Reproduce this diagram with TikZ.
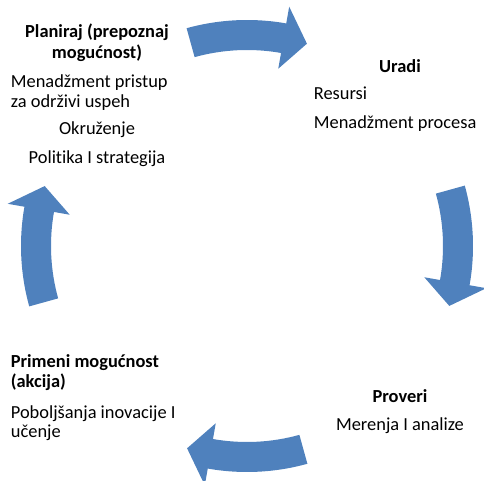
\documentclass[tikz,border=0pt]{standalone}
\usepackage{fontspec}
\setmainfont{Carlito}[Ligatures=CommonOff]
\definecolor{arrowblue}{HTML}{4F81BD}
\begin{document}
\begin{tikzpicture}[x=1pt,y=1pt,
  txt/.style={inner sep=0pt, font=\fontsize{18.4}{20}\selectfont},
  hd/.style={txt, font=\fontsize{18.4}{20}\selectfont\bfseries}]
\useasboundingbox (0,0) rectangle (484,481);
\begin{scope}[shift={(247,235)}]
\foreach \a [evaluate=\a as \b using \a-25.5, evaluate=\a as \c using \a-32] in {105.5,15.5,-74.5,195.5}
  \fill[arrowblue] (\a:226) arc[start angle=\a, end angle=\b, radius=226]
    -- (\b:243) -- (\c:211) -- (\b:180) -- (\b:196)
    arc[start angle=\b, end angle=\a, radius=196] -- cycle;
\end{scope}
% top-left block
\node[hd, anchor=base] (p1) at (97,481-37.3) {Planiraj (prepoznaj};
\node[hd, anchor=base] (p2) at (97,481-58.3) {mogućnost)};
\node[txt, anchor=base west] (p3) at (10.7,481-87.3) {Menadžment pristup};
\node[txt, anchor=base west] (p4) at (10.7,481-107.3) {za održivi uspeh};
\node[txt, anchor=base] (p5) at (97,481-135) {Okruženje};
\node[txt, anchor=base] (p6) at (97,481-164) {Politika I strategija};
% top-right block
\node[hd, anchor=base] (d1) at (400,481-72.3) {Uradi};
\node[txt, anchor=base west] (d2) at (313.7,481-100) {Resursi};
\node[txt, anchor=base west] (d3) at (313.7,481-129) {Menadžment procesa};
% bottom-left block
\node[hd, anchor=base west] (a1) at (10.7,481-367.3) {Primeni mogućnost};
\node[hd, anchor=base west] (a2) at (10.7,481-387.3) {(akcija)};
\node[txt, anchor=base west] (a3) at (10.7,481-418.3) {Poboljšanja inovacije I};
\node[txt, anchor=base west] (a4) at (10.7,481-437.3) {učenje};
% bottom-right block
\node[hd, anchor=base] (c1) at (400,481-402.3) {Proveri};
\node[txt, anchor=base] (c2) at (400,481-430.7) {Merenja I analize};
\end{tikzpicture}
\end{document}
